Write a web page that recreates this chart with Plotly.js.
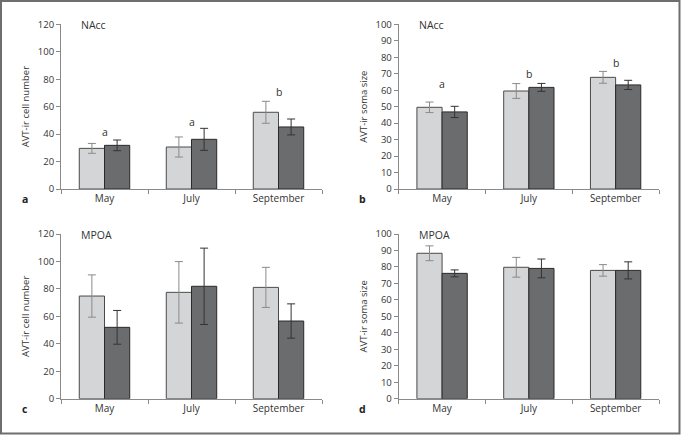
<!DOCTYPE html>
<html>
<head>
<meta charset="utf-8">
<script src="https://cdn.plot.ly/plotly-3.0.1.min.js"></script>
<style>html,body{margin:0;padding:0;background:#fff;}#chart{width:681px;height:435px;}</style>
</head>
<body>
<div id="chart"></div>
<script>
// ---- data ----
const months = ['May', 'July', 'September'];

const aLight = [29.6, 30.6, 55.9];
const aLightErr = [3.6, 7.3, 8.0];
const aDark = [31.8, 36.2, 45.2];
const aDarkErr = [3.9, 8.0, 5.8];
const aLetters = ['a', 'a', 'b'];
const aLetterY = [41.8, 49, 71];

const bLight = [49.6, 59.5, 67.8];
const bLightErr = [3.2, 4.5, 3.6];
const bDark = [46.8, 61.7, 63.2];
const bDarkErr = [3.4, 2.4, 2.8];
const bLetters = ['a', 'b', 'b'];
const bLetterY = [63.8, 69.8, 76.7];

const cLight = [74.8, 77.5, 81.1];
const cLightErr = [15.4, 22.4, 14.6];
const cDark = [52.0, 81.9, 56.6];
const cDarkErr = [12.3, 27.8, 12.5];

const dLight = [88.3, 79.8, 77.9];
const dLightErr = [4.5, 6.0, 3.5];
const dDark = [76.1, 79.1, 77.9];
const dDarkErr = [2.1, 5.7, 5.2];

const regions = ['NAcc', 'NAcc', 'MPOA', 'MPOA'];
const panelLetters = ['a', 'b', 'c', 'd'];
const yTitles = ['AVT-ir cell number', 'AVT-ir soma size', 'AVT-ir cell number', 'AVT-ir soma size'];

// ---- styling ----
const W = 681, H = 435;
const FONT = 'Open Sans';
const lightFill = '#d4d5d7', lightLine = '#4a4a4a', lightErr = '#8a8a8a';
const darkFill = '#6b6c6e', darkLine = '#2a2a2a', darkErr = '#333333';

const px = v => v / W;
const py = v => 1 - v / H;
const panels = [
  {x: [61, 322], y: [24.3, 189], range: [0, 120], dtick: 20},
  {x: [398.7, 659], y: [24.3, 189], range: [0, 100], dtick: 10},
  {x: [61, 322], y: [234, 398.7], range: [0, 120], dtick: 20},
  {x: [398.7, 659], y: [234, 398.7], range: [0, 100], dtick: 10}
];
const series = [
  [aLight, aLightErr, aDark, aDarkErr],
  [bLight, bLightErr, bDark, bDarkErr],
  [cLight, cLightErr, cDark, cDarkErr],
  [dLight, dLightErr, dDark, dDarkErr]
];

const traces = [];
const layout = {
  width: W, height: H,
  margin: {l: 0, r: 0, t: 0, b: 0},
  paper_bgcolor: '#fff', plot_bgcolor: 'rgba(0,0,0,0)',
  showlegend: false,
  barmode: 'group', bargap: 0.42, bargroupgap: 0,
  font: {family: FONT, size: 10, color: '#333'},
  annotations: [],
  shapes: [{
    type: 'rect', xref: 'paper', yref: 'paper',
    x0: px(1), x1: px(679.5), y0: py(433.5), y1: py(1),
    line: {color: '#6e6e6e', width: 2}, fillcolor: 'rgba(0,0,0,0)'
  }]
};

panels.forEach((p, i) => {
  const n = i + 1;
  const xa = 'x' + (n === 1 ? '' : n), ya = 'y' + (n === 1 ? '' : n);
  const [lv, le, dv, de] = series[i];
  traces.push({
    type: 'bar', x: months, y: lv, xaxis: xa, yaxis: ya,
    marker: {color: lightFill, line: {color: lightLine, width: 1}},
    error_y: {type: 'data', array: le, visible: true, color: lightErr, thickness: 1, width: 4}
  });
  traces.push({
    type: 'bar', x: months, y: dv, xaxis: xa, yaxis: ya,
    marker: {color: darkFill, line: {color: darkLine, width: 1}},
    error_y: {type: 'data', array: de, visible: true, color: darkErr, thickness: 1, width: 4}
  });
  const xk = 'xaxis' + (n === 1 ? '' : n), yk = 'yaxis' + (n === 1 ? '' : n);
  layout[xk] = {
    domain: [px(p.x[0]), px(p.x[1])], anchor: ya,
    type: 'category', range: [-0.5, 2.5], fixedrange: true,
    showline: true, linecolor: '#8a8a8a', linewidth: 1,
    ticks: 'outside', tickson: 'boundaries', ticklen: 4, tickcolor: '#8a8a8a',
    tickfont: {family: FONT, size: 10, color: '#333'},
    showgrid: false, zeroline: false
  };
  layout[yk] = {
    domain: [py(p.y[1]), py(p.y[0])], anchor: xa,
    range: p.range, dtick: p.dtick, tick0: 0, fixedrange: true,
    showline: true, linecolor: '#8a8a8a', linewidth: 1,
    ticks: 'outside', ticklen: 4, tickcolor: '#8a8a8a',
    tickfont: {family: FONT, size: 9.5, color: '#333'},
    showgrid: false, zeroline: false,
    title: {text: yTitles[i], font: {family: FONT, size: 9.5, color: '#333'}, standoff: 6}
  };
  // region label
  layout.annotations.push({
    xref: 'paper', yref: 'paper', x: px(p.x[0] + 18), y: py(p.y[0] + 1),
    xanchor: 'left', yanchor: 'middle', showarrow: false,
    text: regions[i], font: {family: FONT, size: 10.5, color: '#333'}
  });
  // panel letter
  layout.annotations.push({
    xref: 'paper', yref: 'paper', x: px(p.x[0] - 36), y: py(p.y[1] + 10),
    xanchor: 'center', yanchor: 'middle', showarrow: false,
    text: '<b>' + panelLetters[i] + '</b>', font: {family: FONT, size: 10.5, color: '#222'}
  });
});

// significance letters
[[aLetters, aLetterY, 'x', 'y'], [bLetters, bLetterY, 'x2', 'y2']].forEach(([letters, ys, xr, yr]) => {
  letters.forEach((t, k) => {
    layout.annotations.push({
      xref: xr, yref: yr, x: months[k], y: ys[k],
      xanchor: 'center', yanchor: 'middle', showarrow: false,
      text: t, font: {family: FONT, size: 10.5, color: '#333333'}
    });
  });
});

Plotly.newPlot('chart', traces, layout, {staticPlot: true, displayModeBar: false});
</script>
</body>
</html>
